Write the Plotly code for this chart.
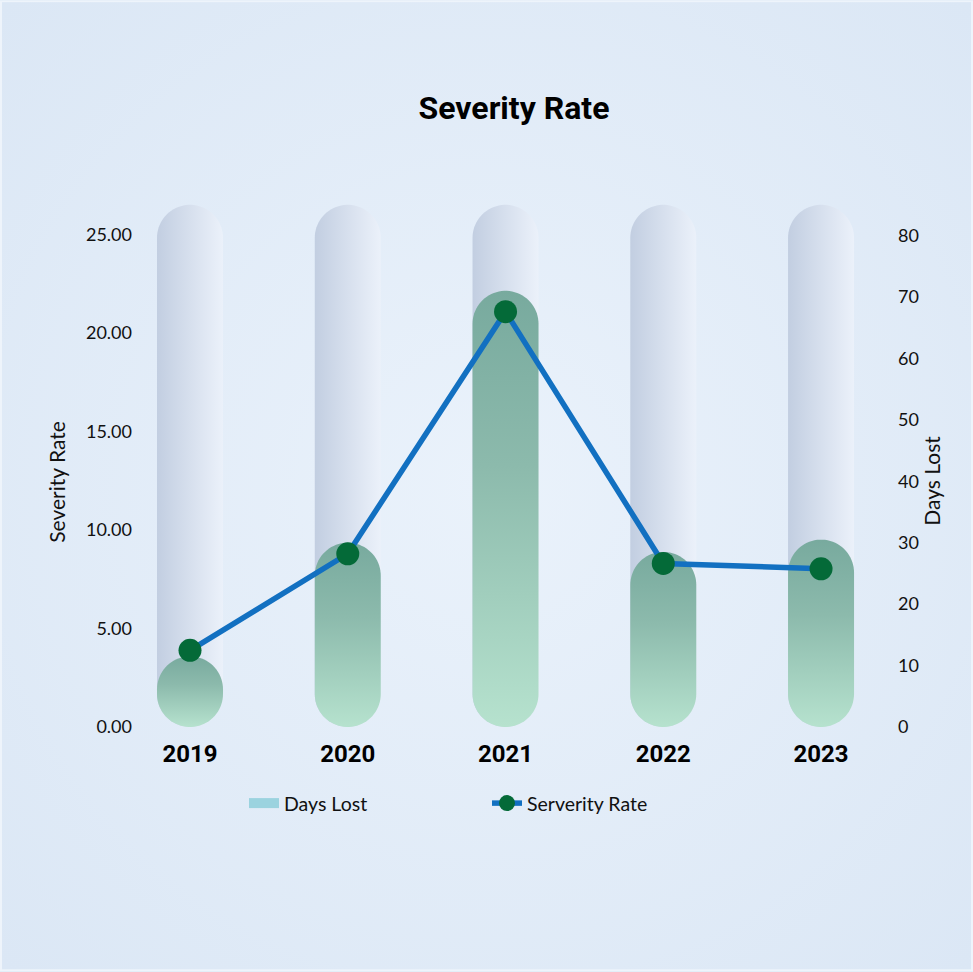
import numpy as np
import urllib.parse
import plotly.graph_objects as go

# ---------------- data ----------------
years = ["2019", "2020", "2021", "2022", "2023"]
days_lost = [11.5, 30.0, 71.0, 28.5, 30.5]
severity_rate = [3.89, 8.79, 21.08, 8.30, 8.03]
track_max = 85            # height of the pale background "track" pills (days)
severity_ticks = [0, 5, 10, 15, 20, 25]
days_ticks = [0, 10, 20, 30, 40, 50, 60, 70, 80]

# ---------------- layout geometry ----------------
W, H = 973, 972
ML, MR, MT, MB = 150, 95, 195, 244.5
PLOT_W = W - ML - MR
PLOT_H = H - MT - MB
X_RANGE = [-0.2536, 4.361]
DAYS_RANGE = [0, 86.6]
SEV_RANGE = [0, 27.0]

px_per_x = PLOT_W / (X_RANGE[1] - X_RANGE[0])
px_per_day = PLOT_H / (DAYS_RANGE[1] - DAYS_RANGE[0])
HALF_W_PX = 33


def pill(center, bottom, top, n=40):
    """Closed outline of a pill (stadium) shape in data units."""
    w = HALF_W_PX / px_per_x
    ry = HALF_W_PX / px_per_day
    ry = min(ry, (top - bottom) / 2)
    yt = top - ry
    yb = bottom + ry
    th_top = np.linspace(np.pi, 0, n)
    th_bot = np.linspace(0, -np.pi, n)
    xs = np.concatenate([[center - w], center + w * np.cos(th_top), [center + w],
                         center + w * np.cos(th_bot)])
    ys = np.concatenate([[yb], yt + ry * np.sin(th_top), [yb],
                         yb + ry * np.sin(th_bot)])
    xs = np.append(xs, xs[0])
    ys = np.append(ys, ys[0])
    return xs, ys


fig = go.Figure()

xpos = list(range(len(years)))

# background tracks
for i, x in enumerate(xpos):
    px_, py_ = pill(x, 0, track_max)
    fig.add_trace(go.Scatter(
        x=px_, y=py_, mode="none", fill="toself",
        fillgradient=dict(type="horizontal",
                          colorscale=[[0, "#c2cee1"], [1, "#ebf1fa"]]),
        showlegend=False, hoverinfo="skip", yaxis="y"))

# days lost pills
for i, (x, d) in enumerate(zip(xpos, days_lost)):
    px_, py_ = pill(x, 0, d)
    fig.add_trace(go.Scatter(
        x=px_, y=py_, mode="none", fill="toself",
        fillgradient=dict(type="vertical",
                          colorscale=[[0, "#b6e2ce"], [0.6, "#8cbaac"], [1, "#78aa9e"]]),
        showlegend=False, hoverinfo="skip", yaxis="y",
        name="Days Lost"))

# legend-only entry for Days Lost
fig.add_trace(go.Scatter(
    x=[None], y=[None], mode="lines", name="Days Lost",
    line=dict(color="#9bd3df", width=12), yaxis="y"))

# severity line
fig.add_trace(go.Scatter(
    x=xpos, y=severity_rate, mode="lines+markers", name="Serverity Rate",
    line=dict(color="#1270c1", width=5.5),
    marker=dict(color="#046a38", size=23),
    yaxis="y2"))

# background svg (soft radial gradient)
svg = (
    f'<svg xmlns="http://www.w3.org/2000/svg" width="{W}" height="{H}">'
    '<defs><radialGradient id="g" cx="50%" cy="50%" r="70%">'
    '<stop offset="0%" stop-color="#eaf2fb"/>'
    '<stop offset="100%" stop-color="#dbe7f5"/>'
    '</radialGradient></defs>'
    f'<rect width="{W}" height="{H}" fill="url(#g)"/>'
    f'<rect x="1" y="1" width="{W-2}" height="{H-2}" fill="none" stroke="#eef4fb" stroke-width="2"/>'
    '</svg>'
)
bg_src = "data:image/svg+xml;charset=utf-8," + urllib.parse.quote(svg)

TEXT_FONT = "Lato, Open Sans, sans-serif"
TICK_FONT = dict(family=TEXT_FONT, size=18, color="#111111")
COND_FONT = "Roboto, Liberation Sans, sans-serif"

fig.update_layout(
    width=W, height=H,
    margin=dict(l=ML, r=MR, t=MT, b=MB),
    paper_bgcolor="#e3edf8",
    plot_bgcolor="rgba(0,0,0,0)",
    images=[dict(source=bg_src, xref="paper", yref="paper",
                 x=-ML / PLOT_W, y=1 + MT / PLOT_H,
                 sizex=W / PLOT_W, sizey=H / PLOT_H,
                 xanchor="left", yanchor="top", sizing="stretch", layer="below")],
    title=dict(text="Severity Rate", x=0.5, xref="paper", xanchor="center",
               y=1 - 108 / H, yref="container", yanchor="middle",
               font=dict(family=COND_FONT, size=32, color="#000000", weight="bold")),
    xaxis=dict(range=X_RANGE, tickmode="array", tickvals=xpos, ticktext=years,
               showgrid=False, zeroline=False, showline=False, ticks="",
               ticklabelstandoff=10,
               tickfont=dict(family=COND_FONT, size=24, color="#000000", weight="bold")),
    yaxis=dict(range=DAYS_RANGE, side="right", tickmode="array", tickvals=days_ticks,
               showgrid=False, zeroline=False, showline=False, ticks="",
               ticklabelstandoff=19, tickfont=TICK_FONT),
    yaxis2=dict(range=SEV_RANGE, side="left", overlaying="y", tickmode="array",
                tickvals=severity_ticks, tickformat=".2f",
                showgrid=False, zeroline=False, showline=False, ticks="",
                ticklabelstandoff=17, tickfont=TICK_FONT),
    legend=dict(orientation="h", x=(244 - ML) / PLOT_W, xanchor="left",
                y=(PLOT_H - (804 - MT)) / PLOT_H, yanchor="middle",
                bgcolor="rgba(0,0,0,0)", font=dict(family=TEXT_FONT, size=19.5, color="#111111"),
                entrywidth=198, entrywidthmode="pixels", traceorder="normal"),
    annotations=[
        dict(text="Severity Rate", textangle=-90, xref="paper", yref="paper",
             x=(57 - ML) / PLOT_W, y=(PLOT_H - (482 - MT)) / PLOT_H,
             xanchor="center", yanchor="middle", showarrow=False,
             font=dict(family=TEXT_FONT, size=21, color="#111111")),
        dict(text="Days Lost", textangle=-90, xref="paper", yref="paper",
             x=(932 - ML) / PLOT_W, y=(PLOT_H - (481 - MT)) / PLOT_H,
             xanchor="center", yanchor="middle", showarrow=False,
             font=dict(family=TEXT_FONT, size=21, color="#111111")),
    ],
    showlegend=True,
)

fig.write_html("out.html", config={"displayModeBar": False},
               post_script="document.body.style.margin='0';")
